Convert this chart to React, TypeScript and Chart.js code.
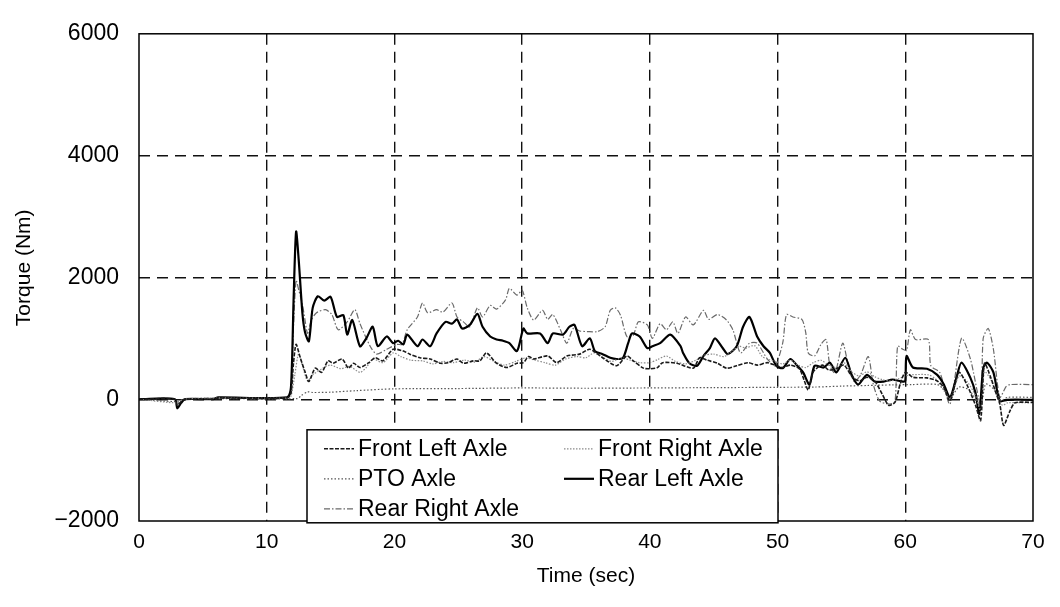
import React, { useEffect, useRef } from "react";
import { Chart, registerables } from "chart.js";

Chart.register(...registerables);

const xTicks = [0, 10, 20, 30, 40, 50, 60, 70];
const yTicks = [-2000, 0, 2000, 4000, 6000];

const frontLeftT = [0, 2.8, 3.0, 3.3, 3.6, 5.8, 6.2, 11.6, 11.9, 12.1, 12.3, 12.6, 13.0, 13.3, 13.8, 14.3, 14.8, 15.2, 15.9, 16.4, 16.8, 17.3, 18.0, 18.5, 19.1, 19.9, 20.7, 21.2, 22.0, 22.8, 23.6, 24.2, 24.9, 25.4, 26.2, 26.7, 27.2, 28.0, 28.8, 29.6, 30.1, 30.5, 30.9, 32.0, 32.7, 33.5, 34.5, 35.3, 36.3, 37.4, 38.2, 38.7, 39.5, 40.0, 40.6, 41.0, 42.1, 43.4, 43.9, 44.5, 45.3, 46.0, 46.8, 47.7, 48.4, 49.2, 49.9, 50.4, 51.0, 51.7, 52.1, 52.4, 52.8, 53.5, 54.0, 54.6, 55.2, 55.8, 56.4, 57.0, 57.6, 58.2, 58.7, 59.2, 59.6, 60.0, 60.6, 61.7, 62.5, 63.0, 63.5, 64.2, 64.8, 65.5, 65.9, 66.2, 66.7, 67.1, 67.4, 67.7, 68.2, 68.6, 70];
const frontLeftV = [0, 0, -100, -40, 0, 0, 20, 20, 100, 600, 900, 700, 450, 290, 510, 440, 630, 590, 660, 510, 590, 520, 600, 680, 630, 820, 790, 740, 680, 660, 590, 600, 660, 590, 630, 630, 760, 590, 520, 590, 600, 700, 660, 710, 600, 710, 740, 820, 680, 550, 710, 630, 510, 500, 520, 600, 590, 510, 680, 640, 590, 510, 550, 600, 560, 600, 550, 520, 560, 500, 300, 150, 450, 560, 480, 500, 560, 380, 300, 360, 300, 80, -100, -50, 250, 440, 360, 350, 300, 200, -30, 440, 250, -100, -350, 590, 350, 100, -80, -430, -190, -60, -50];

const frontRightT = [0, 3.0, 3.5, 6.0, 11.6, 11.9, 12.2, 12.5, 12.8, 13.2, 13.6, 14.4, 15.0, 15.8, 16.5, 17.3, 17.8, 18.3, 19.1, 19.9, 20.5, 21.3, 22.2, 23.0, 23.8, 24.6, 25.5, 26.3, 27.0, 27.8, 28.6, 29.5, 30.3, 31.0, 31.8, 32.6, 33.4, 34.3, 35.0, 35.6, 36.2, 37.0, 37.8, 38.5, 39.2, 40.0, 40.6, 41.3, 42.0, 42.8, 43.6, 44.2, 45.0, 45.8, 46.5, 47.0, 47.5, 48.2, 48.8, 49.2, 49.8, 50.4, 51.0, 51.6, 52.2, 52.8, 53.4, 54.0, 54.6, 55.2, 55.8, 56.4, 57.0, 57.6, 58.2, 58.8, 59.4, 60.0, 60.4, 61.8, 62.4, 63.0, 63.5, 64.2, 64.8, 65.5, 65.9, 66.2, 66.7, 67.2, 67.6, 68.0, 70];
const frontRightV = [0, -60, 0, 20, 20, 50, 400, 750, 550, 300, 400, 510, 560, 500, 540, 440, 520, 660, 600, 760, 700, 640, 630, 580, 620, 600, 640, 610, 700, 620, 560, 620, 680, 640, 600, 560, 660, 700, 680, 760, 700, 620, 680, 640, 600, 600, 650, 710, 620, 580, 640, 720, 740, 700, 800, 870, 840, 880, 700, 660, 620, 580, 640, 560, 520, 600, 640, 560, 520, 600, 450, 380, 450, 370, 320, 300, 330, 380, 400, 400, 330, 150, 0, 380, 300, 60, -200, 450, 320, 50, -100, -60, -60];

const ptoT = [0, 3.0, 3.5, 6.0, 12.4, 12.7, 13.2, 13.6, 15, 17, 20, 25, 30, 35, 40, 45, 50, 53, 55, 57, 59, 60.5, 62.5, 63.2, 63.5, 64.2, 65.0, 65.9, 66.3, 67.0, 67.5, 68.0, 70];
const ptoV = [0, -40, 0, 10, 10, 60, 120, 110, 115, 140, 170, 175, 185, 180, 185, 190, 195, 200, 215, 225, 235, 240, 240, 120, 0, 200, 150, -100, 250, 150, -20, 30, 30];

const rearLeftT = [0, 2.8, 3.0, 3.3, 3.6, 5.8, 6.2, 11.6, 11.9, 12.1, 12.3, 12.5, 12.8, 13.0, 13.3, 13.6, 14.0, 14.5, 15.0, 15.5, 16.0, 16.3, 16.7, 17.3, 17.8, 18.3, 18.7, 19.4, 19.9, 20.3, 20.7, 21.0, 21.8, 22.2, 22.8, 23.3, 24.0, 24.5, 24.9, 25.3, 25.9, 26.5, 26.9, 27.5, 28.0, 28.5, 29.0, 29.6, 30.1, 30.4, 31.4, 32.0, 32.4, 33.2, 33.7, 34.1, 34.7, 35.3, 35.7, 36.3, 36.9, 37.4, 37.9, 38.3, 38.6, 39.2, 39.8, 40.2, 40.8, 41.6, 42.4, 42.6, 43.1, 43.7, 44.2, 44.7, 45.1, 45.7, 46.1, 46.8, 47.3, 47.8, 48.4, 48.9, 49.4, 49.9, 50.4, 51.0, 51.5, 52.0, 52.5, 52.9, 53.6, 54.1, 54.6, 55.3, 55.8, 56.3, 57.0, 57.6, 58.3, 59.0, 59.8, 60.0, 60.1, 60.6, 61.7, 62.5, 63.0, 63.5, 64.0, 64.4, 65.1, 65.5, 65.8, 66.1, 66.4, 66.9, 67.4, 68.0, 70];
const rearLeftV = [0, 0, -150, -60, 0, 0, 30, 30, 200, 1600, 2750, 2300, 1400, 1100, 950, 1500, 1690, 1620, 1680, 1350, 1380, 1060, 1300, 870, 1000, 1190, 870, 1030, 920, 960, 900, 1060, 870, 980, 870, 1080, 1270, 1240, 1310, 1160, 1220, 1400, 1190, 1030, 980, 960, 920, 790, 1160, 1080, 1080, 920, 1080, 1060, 1190, 1220, 870, 1000, 790, 740, 680, 660, 680, 920, 1080, 1030, 840, 870, 920, 1060, 870, 760, 590, 550, 710, 840, 1000, 840, 740, 870, 1190, 1350, 1030, 870, 760, 550, 510, 660, 560, 440, 240, 550, 520, 600, 440, 680, 400, 240, 400, 290, 290, 320, 290, 300, 710, 520, 500, 400, 250, 30, 350, 600, 350, 100, -240, 510, 600, 440, -30, -10, -10];

const rearRightT = [0, 2.8, 3.0, 3.3, 3.6, 6.0, 11.6, 11.9, 12.1, 12.3, 12.5, 12.8, 13.0, 13.2, 13.5, 13.9, 14.6, 15.1, 15.6, 16.3, 16.9, 17.3, 18.1, 18.6, 19.4, 20.2, 20.6, 21.0, 21.8, 22.2, 22.6, 23.3, 23.8, 24.5, 24.9, 25.4, 25.9, 26.5, 26.9, 27.5, 28.0, 28.7, 29.0, 29.6, 30.0, 30.4, 30.9, 31.6, 32.0, 32.4, 33.0, 33.5, 34.0, 34.5, 35.1, 35.9, 36.5, 36.9, 37.3, 37.7, 38.2, 38.7, 39.1, 39.8, 40.2, 40.8, 41.3, 41.8, 42.2, 42.8, 43.4, 44.2, 44.6, 45.3, 46.0, 46.5, 47.1, 47.8, 48.4, 49.2, 49.8, 50.4, 50.7, 51.2, 51.9, 52.2, 52.4, 52.9, 53.4, 53.8, 54.1, 54.5, 55.1, 55.5, 56.0, 56.5, 57.1, 57.5, 58.0, 58.8, 59.2, 59.4, 59.8, 60.1, 60.4, 60.8, 61.8, 62.0, 62.7, 63.5, 64.4, 65.1, 65.9, 66.1, 66.5, 66.9, 67.4, 67.9, 68.2, 70];
const rearRightV = [0, 0, -80, -30, 0, 20, 20, 150, 1200, 1950, 1800, 1550, 1300, 1080, 1300, 1420, 1470, 1390, 1140, 1270, 1470, 1240, 870, 740, 820, 900, 900, 1140, 1350, 1580, 1420, 1470, 1430, 1580, 1350, 1270, 1190, 1500, 1350, 1540, 1480, 1630, 1820, 1710, 1790, 1500, 1300, 1460, 1310, 1390, 1140, 920, 1160, 1120, 1110, 1110, 1190, 1460, 1500, 1380, 1030, 1050, 1270, 1220, 1000, 1240, 1140, 1270, 1080, 1350, 1220, 1460, 1310, 1390, 1300, 1140, 760, 920, 920, 660, 550, 920, 1390, 1350, 1310, 1100, 760, 710, 900, 980, 550, 430, 920, 600, 290, 400, 700, 240, -30, -80, -30, 870, 820, 800, 1140, 980, 980, 550, 440, -80, 1000, 660, -80, 1000, 1160, 820, 30, 210, 240, 240];

const seriesNames = ["Front Left Axle", "Front Right Axle", "PTO Axle", "Rear Left Axle", "Rear Right Axle"];

const styles = [
  { color: "#1a1a1a", width: 1.6, dash: [4, 1.5] },
  { color: "#8a8a8a", width: 1.2, dash: [1.5, 1.5] },
  { color: "#555555", width: 1.2, dash: [1.5, 2] },
  { color: "#000000", width: 2.2, dash: [] as number[] },
  { color: "#6a6a6a", width: 1.2, dash: [6, 2, 1.5, 2] },
];

const pts = (t: number[], v: number[]) => t.map((x, i) => ({ x, y: v[i] }));

const overlay = {
  id: "overlay",
  afterDraw(chart: any) {
    const { ctx, chartArea: a } = chart;
    ctx.save();
    ctx.setLineDash([]);
    ctx.strokeStyle = "#000";
    ctx.lineWidth = 1.5;
    ctx.strokeRect(a.left, a.top, a.right - a.left, a.bottom - a.top);

    ctx.fillStyle = "#000";
    ctx.font = '21px "Liberation Sans", Arial, sans-serif';
    ctx.textAlign = "center";
    ctx.textBaseline = "middle";
    ctx.fillText("Time (sec)", (a.left + a.right) / 2, a.bottom + 55);
    ctx.save();
    ctx.translate(24, a.top + 234);
    ctx.rotate(-Math.PI / 2);
    ctx.fillText("Torque (Nm)", 0, 0);
    ctx.restore();

    // legend box
    const x0 = a.left + 168;
    const y0 = a.top + 396;
    const w = 471;
    const h = 93;
    ctx.fillStyle = "#fff";
    ctx.fillRect(x0, y0, w, h);
    ctx.strokeStyle = "#000";
    ctx.lineWidth = 1.5;
    ctx.strokeRect(x0, y0, w, h);
    const cols = [x0 + 17, x0 + 257];
    const rows = [y0 + 19, y0 + 49, y0 + 79];
    const place = [
      [0, 0],
      [1, 0],
      [0, 1],
      [1, 1],
      [0, 2],
    ];
    ctx.font = '23px "Liberation Sans", Arial, sans-serif';
    ctx.textAlign = "left";
    seriesNames.forEach((name, i) => {
      const [c, r] = place[i];
      const sx = cols[c];
      const sy = rows[r];
      const st = styles[i];
      ctx.strokeStyle = st.color;
      ctx.lineWidth = st.width;
      ctx.setLineDash(st.dash);
      ctx.beginPath();
      ctx.moveTo(sx, sy);
      ctx.lineTo(sx + 30, sy);
      ctx.stroke();
      ctx.setLineDash([]);
      ctx.fillStyle = "#000";
      ctx.fillText(name, sx + 34, sy + 1);
    });
    ctx.restore();
  },
};

export default function App() {
  const ref = useRef<HTMLCanvasElement | null>(null);
  useEffect(() => {
    if (!ref.current) return;
    const data = [
      pts(frontLeftT, frontLeftV),
      pts(frontRightT, frontRightV),
      pts(ptoT, ptoV),
      pts(rearLeftT, rearLeftV),
      pts(rearRightT, rearRightV),
    ];
    const chart = new Chart(ref.current, {
      type: "line",
      data: {
        datasets: seriesNames.map((name, i) => ({
          label: name,
          data: data[i],
          borderColor: styles[i].color,
          borderWidth: styles[i].width,
          borderDash: styles[i].dash,
          pointRadius: 0,
          tension: 0.25,
          fill: false,
        })),
      },
      options: {
        animation: false,
        responsive: true,
        maintainAspectRatio: false,
        parsing: false as any,
        layout: { padding: { left: 0, top: 16, right: 27, bottom: 0 } },
        plugins: { legend: { display: false }, tooltip: { enabled: false } },
        scales: {
          x: {
            type: "linear",
            min: 0,
            max: 70,
            afterBuildTicks: (s: any) => {
              s.ticks = xTicks.map((v) => ({ value: v }));
            },
            afterFit: (s: any) => {
              s.height = 86;
            },
            ticks: {
              color: "#000",
              padding: 9,
              font: { family: '"Liberation Sans", Arial, sans-serif', size: 21 },
              callback: (v: any) => String(v),
            },
            grid: {
              drawTicks: false,
              lineWidth: 1.4,
              color: (c: any) => (c.tick && (c.tick.value === 0 || c.tick.value === 70) ? "rgba(0,0,0,0)" : "#111"),
            },
            border: { display: false, dash: [11, 7] },
          },
          y: {
            type: "linear",
            min: -2000,
            max: 6000,
            afterBuildTicks: (s: any) => {
              s.ticks = yTicks.map((v) => ({ value: v }));
            },
            afterFit: (s: any) => {
              s.width = 139;
            },
            ticks: {
              color: "#000",
              padding: 20,
              font: { family: '"Liberation Sans", Arial, sans-serif', size: 23 },
              callback: (v: any) => String(v).replace("-", "\u2212"),
            },
            grid: {
              drawTicks: false,
              lineWidth: 1.4,
              color: (c: any) => (c.tick && (c.tick.value === -2000 || c.tick.value === 6000) ? "rgba(0,0,0,0)" : "#111"),
            },
            border: { display: false, dash: [11, 7] },
          },
        },
      },
      plugins: [overlay],
    });
    return () => chart.destroy();
  }, []);
  return (
    <div style={{ position: "absolute", left: 0, top: 0, width: 1060, height: 607, background: "#fff" }}>
      <canvas ref={ref} />
    </div>
  );
}
